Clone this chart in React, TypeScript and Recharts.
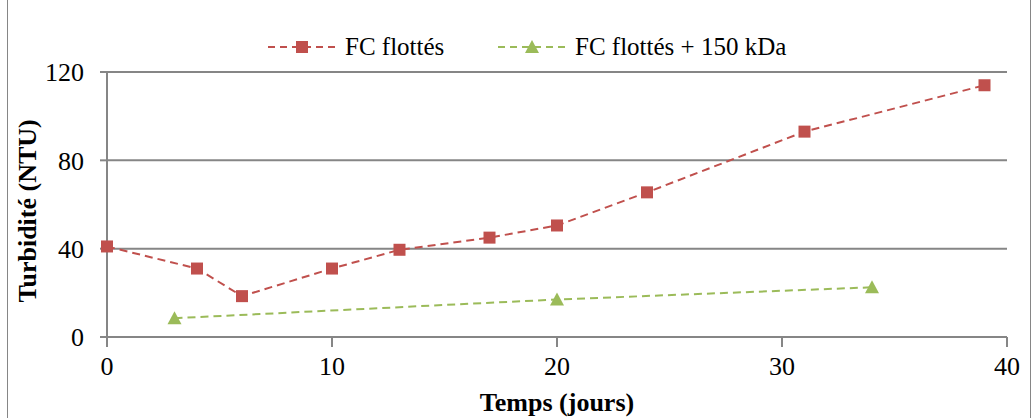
import { CartesianGrid, Line, LineChart, XAxis, YAxis } from "recharts";

const flotDays = [0, 4, 6, 10, 13, 17, 20, 24, 31, 39];
const flotValues = [41, 31, 18.5, 31, 39.5, 45, 50.5, 65.5, 93, 114];

const kdaDays = [3, 20, 34];
const kdaValues = [8.5, 17, 22.5];

const xTicks = [0, 10, 20, 30, 40];
const yTicks = [0, 40, 80, 120];

const RED = "#C0504D";
const GREEN = "#9BBB59";
const AXIS = "#868686";
const FONT = "Liberation Serif, Times New Roman, serif";

const flotData = flotDays.map((d, i) => ({ day: d, value: flotValues[i] }));
const kdaData = kdaDays.map((d, i) => ({ day: d, value: kdaValues[i] }));

const squareDot = (props: any) => {
  const { cx, cy, index } = props;
  if (typeof cx !== "number" || typeof cy !== "number") return <g key={`s${index}`} />;
  return <rect key={`s${index}`} x={cx - 6} y={cy - 6} width={12} height={12} fill={RED} />;
};

const triangleDot = (props: any) => {
  const { cx, cy, index } = props;
  if (typeof cx !== "number" || typeof cy !== "number") return <g key={`t${index}`} />;
  return (
    <polygon
      key={`t${index}`}
      points={`${cx},${cy - 7} ${cx + 7},${cy + 6} ${cx - 7},${cy + 6}`}
      fill={GREEN}
    />
  );
};

// legend drawn as an overlay so it doesn't push the plot down
function LegendBox() {
  const item = (color: string, label: string, marker: "square" | "tri", left: number) => (
    <div style={{ position: "absolute", left, top: 0, display: "flex", alignItems: "center", whiteSpace: "nowrap" }}>
      <svg width={68} height={20}>
        <line x1={0} y1={10} x2={68} y2={10} stroke={color} strokeWidth={2} strokeDasharray="7 5" />
        {marker === "square" ? (
          <rect x={28} y={4} width={12} height={12} fill={color} />
        ) : (
          <polygon points="34,3 41,16 27,16" fill={color} />
        )}
      </svg>
      <span style={{ marginLeft: 9, fontSize: 25, fontFamily: FONT, color: "#000", lineHeight: "28px" }}>
        {label}
      </span>
    </div>
  );
  return (
    <div style={{ position: "absolute", left: 0, top: 33, width: 1035, height: 28 }}>
      {item(RED, "FC flottés", "square", 268)}
      {item(GREEN, "FC flottés + 150 kDa", "tri", 498)}
    </div>
  );
}

export default function App() {
  return (
    <div style={{ position: "absolute", left: 0, top: 0, width: 1035, height: 418, background: "#fff" }}>
      <div
        style={{
          position: "absolute",
          left: 7,
          top: -1,
          width: 1022,
          height: 418,
          border: `1px solid ${AXIS}`,
        }}
      />
      <LineChart
        width={1035}
        height={418}
        margin={{ top: 72, right: 28, bottom: 21, left: 0 }}
        style={{ fontFamily: FONT }}
      >
        <CartesianGrid vertical={false} stroke={AXIS} strokeWidth={2} />
        <XAxis
          type="number"
          dataKey="day"
          domain={[0, 40]}
          ticks={xTicks}
          height={60}
          stroke={AXIS}
          strokeWidth={2}
          tickSize={10}
          tickMargin={10}
          tick={{ fill: "#000", fontSize: 26, fontFamily: FONT }}
          allowDuplicatedCategory={false}
          label={{
            value: "Temps (jours)",
            position: "insideBottom",
            offset: -14,
            fill: "#000",
            fontSize: 26,
            fontWeight: "bold",
            fontFamily: FONT,
          }}
        />
        <YAxis
          type="number"
          domain={[0, 120]}
          ticks={yTicks}
          width={107}
          stroke={AXIS}
          strokeWidth={2}
          tickSize={7}
          tickMargin={16}
          tick={{ fill: "#000", fontSize: 26, fontFamily: FONT }}
          label={{
            value: "Turbidité (NTU)",
            angle: -90,
            position: "insideLeft",
            offset: 27,
            dy: 98,
            fill: "#000",
            fontSize: 26,
            fontWeight: "bold",
            fontFamily: FONT,
          }}
        />
        <Line
          data={flotData}
          dataKey="value"
          type="linear"
          stroke={RED}
          strokeWidth={2}
          strokeDasharray="8 5"
          dot={squareDot}
          activeDot={false}
          isAnimationActive={false}
        />
        <Line
          data={kdaData}
          dataKey="value"
          type="linear"
          stroke={GREEN}
          strokeWidth={2}
          strokeDasharray="8 5"
          dot={triangleDot}
          activeDot={false}
          isAnimationActive={false}
        />
      </LineChart>
      <LegendBox />
    </div>
  );
}
